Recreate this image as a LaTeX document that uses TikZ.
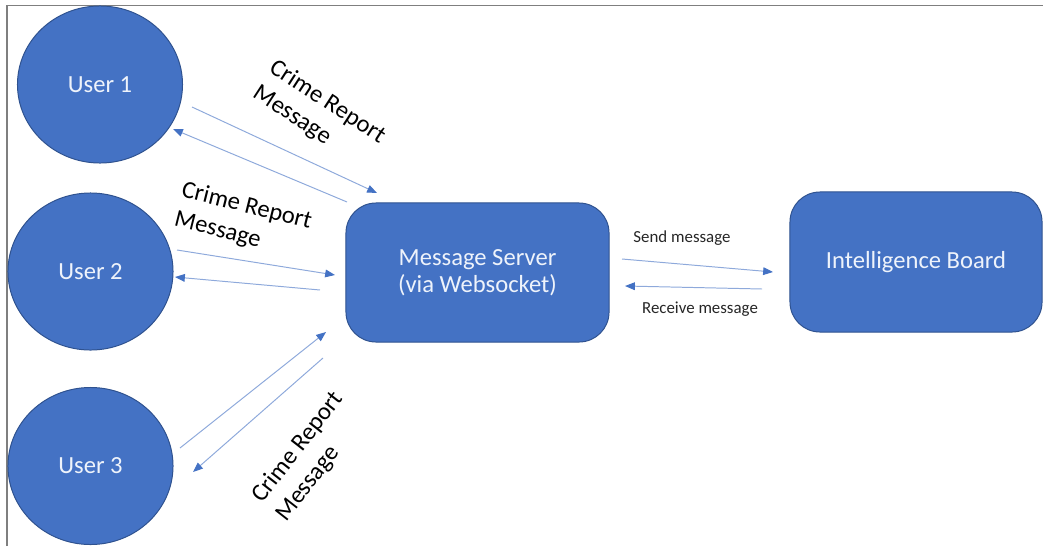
\documentclass[tikz,border=0pt]{standalone}
\usepackage{fontspec}
\setmainfont{Carlito}
\usetikzlibrary{shapes.geometric,arrows.meta}

\begin{document}
\begin{tikzpicture}[x=0.025cm,y=-0.025cm,
  utente/.style={ellipse, fill=colNodo, draw=colBordo, line width=0.7pt,
    minimum width=4.125cm, minimum height=3.925cm, inner sep=0pt,
    text=colTesto, font=\fontsize{17.5}{21}\selectfont},
  blocco/.style={rectangle, rounded corners=0.75cm, fill=colNodo, draw=colBordo,
    line width=0.7pt, inner sep=0pt, align=center,
    text=colTesto, font=\fontsize{17.5}{19.5}\selectfont},
  freccia/.style={colLinea, line width=0.7pt,
    -{Triangle[color=colPunta, length=7pt, width=5.5pt]}},
  etichetta/.style={align=left, inner sep=0pt, font=\fontsize{17.5}{21.5}\selectfont},
  piccola/.style={inner sep=0pt, text=black!85, font=\fontsize{12}{14}\selectfont}
]

% Colori
\definecolor{colNodo}{HTML}{4472C4}
\definecolor{colBordo}{HTML}{2F528F}
\definecolor{colTesto}{HTML}{EEF3FB}
\definecolor{colLinea}{HTML}{8EA9DB}
\definecolor{colPunta}{HTML}{4472C4}
\definecolor{colCornice}{HTML}{7F7F7F}

\useasboundingbox (0,0) rectangle (1043,546);

% Cornice
\draw[colCornice, line width=1.4pt] (7,546) -- (7,5.5) -- (1043,5.5);

% Utenti
\node[utente] (user1) at (100,84.5) {User 1};
\node[utente] (user2) at (90.5,271.5) {User 2};
\node[utente] (user3) at (90.5,466) {User 3};

% Server e bacheca
\node[blocco, minimum width=6.575cm, minimum height=3.475cm] (server) at (477.5,272.5)
  {Message Server\\(via Websocket)};
\node[blocco, minimum width=6.3cm, minimum height=3.5cm] (board) at (916,262)
  {Intelligence Board};

% Estremi delle frecce
\coordinate (u1out) at (192,107);   \coordinate (s1in)  at (377,193);
\coordinate (s1out) at (347,202);   \coordinate (u1in)  at (173,129);
\coordinate (u2out) at (177,250);   \coordinate (s2in)  at (335,275);
\coordinate (s2out) at (320,290);   \coordinate (u2in)  at (175,277);
\coordinate (u3out) at (180,448);   \coordinate (s3in)  at (326,332);
\coordinate (s3out) at (323,358);   \coordinate (u3in)  at (193,472);
\coordinate (srvout) at (622,259);  \coordinate (brdin) at (773,272);
\coordinate (brdout) at (762,289);  \coordinate (srvin) at (625,286);

% Frecce
\draw[freccia] (u1out) -- (s1in);
\draw[freccia] (s1out) -- (u1in);
\draw[freccia] (u2out) -- (s2in);
\draw[freccia] (s2out) -- (u2in);
\draw[freccia] (u3out) -- (s3in);
\draw[freccia] (s3out) -- (u3in);
\draw[freccia] (srvout) -- (brdin);
\draw[freccia] (brdout) -- (srvin);

% Etichette
\node[etichetta, rotate=-33] (lab1) at (319,115) {Crime Report\\Message};
\node[etichetta, rotate=-14] (lab2) at (243,221) {Crime Report\\Message};
\node[etichetta, rotate=52] (lab3) at (310,457) {Crime Report\\Message};
\node[piccola] (labsend) at (682,238) {Send message};
\node[piccola] (labrecv) at (700,309) {Receive message};

\end{tikzpicture}
\end{document}
